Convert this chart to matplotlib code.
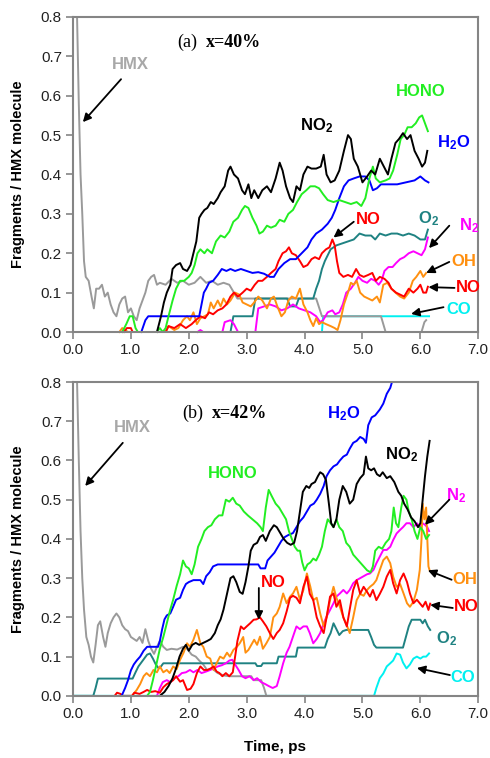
import matplotlib
matplotlib.use('Agg')
import matplotlib.pyplot as plt

plt.rcParams['font.family'] = ['Liberation Sans', 'DejaVu Sans']
plt.rcParams['mathtext.fontset'] = 'custom'
plt.rcParams['mathtext.bf'] = 'Liberation Sans:bold'
plt.rcParams['mathtext.rm'] = 'Liberation Sans:bold'

# ---------------- panel (a) x=40% ----------------
a_hmx_t = [0.00, 0.07, 0.10, 0.13, 0.16, 0.19, 0.22, 0.27, 0.32, 0.36, 0.40, 0.45, 0.50, 0.55, 0.60, 0.65,
           0.70, 0.75, 0.80, 0.85, 0.90, 0.95, 1.00, 1.05, 1.10, 1.15, 1.20, 1.25, 1.30, 1.35, 1.40, 1.45,
           1.50, 1.60, 1.70, 1.80, 1.90, 2.00, 2.10, 2.20, 2.30, 2.40, 2.50, 2.60, 2.70, 2.78, 2.84, 4.20,
           4.30, 5.32, 5.40, 6.02, 6.07, 6.10]
a_hmx_y = [1.00, 0.80, 0.58, 0.40, 0.30, 0.18, 0.14, 0.13, 0.09, 0.06, 0.11, 0.11, 0.12, 0.09, 0.10, 0.07,
           0.05, 0.04, 0.07, 0.085, 0.09, 0.05, 0.06, 0.04, 0.03, 0.06, 0.08, 0.10, 0.13, 0.14, 0.145, 0.12,
           0.125, 0.12, 0.135, 0.125, 0.13, 0.12, 0.125, 0.14, 0.125, 0.13, 0.12, 0.125, 0.12, 0.10, 0.085, 0.085,
           0.04, 0.04, 0.0, 0.0, 0.025, 0.03]

a_no2_t = [1.45, 1.52, 1.57, 1.62, 1.68, 1.72, 1.78, 1.85, 1.90, 1.97, 2.03, 2.08, 2.13, 2.18, 2.22, 2.27,
           2.32, 2.38, 2.43, 2.50, 2.55, 2.62, 2.68, 2.72, 2.78, 2.85, 2.92, 2.97, 3.03, 3.08, 3.13, 3.20,
           3.27, 3.35, 3.42, 3.50, 3.57, 3.62, 3.68, 3.75, 3.80, 3.86, 3.92, 3.98, 4.05, 4.12, 4.20, 4.28,
           4.33, 4.38, 4.45, 4.52, 4.60, 4.68, 4.75, 4.80, 4.85, 4.92, 5.00, 5.08, 5.15, 5.22, 5.30, 5.37,
           5.44, 5.50, 5.57, 5.63, 5.70, 5.77, 5.83, 5.90, 5.97, 6.03, 6.08, 6.12]
a_no2_y = [0.0, 0.04, 0.075, 0.10, 0.12, 0.16, 0.17, 0.175, 0.16, 0.155, 0.17, 0.20, 0.23, 0.29, 0.30, 0.31,
           0.315, 0.33, 0.325, 0.34, 0.355, 0.37, 0.41, 0.42, 0.40, 0.39, 0.36, 0.35, 0.375, 0.34, 0.36, 0.34,
           0.36, 0.37, 0.355, 0.39, 0.43, 0.41, 0.37, 0.34, 0.33, 0.37, 0.36, 0.40, 0.42, 0.415, 0.415, 0.42,
           0.45, 0.40, 0.38, 0.385, 0.41, 0.46, 0.50, 0.49, 0.44, 0.42, 0.38, 0.395, 0.41, 0.40, 0.44, 0.42,
           0.40, 0.44, 0.48, 0.49, 0.505, 0.49, 0.50, 0.46, 0.44, 0.42, 0.43, 0.46]

a_hono_t = [0.85, 0.92, 0.98, 1.03, 1.08, 1.12, 1.45, 1.50, 1.55, 1.60, 1.65, 1.72, 1.78, 1.85, 1.92, 2.00,
            2.05, 2.10, 2.15, 2.20, 2.27, 2.32, 2.40, 2.47, 2.55, 2.62, 2.70, 2.77, 2.85, 2.92, 2.97, 3.03,
            3.10, 3.17, 3.22, 3.28, 3.35, 3.42, 3.50, 3.57, 3.65, 3.72, 3.80, 3.87, 3.95, 4.03, 4.10, 4.18,
            4.25, 4.32, 4.40, 4.50, 4.60, 4.70, 4.80, 4.90, 4.98, 5.05, 5.12, 5.18, 5.23, 5.30, 5.40, 5.47,
            5.53, 5.60, 5.66, 5.72, 5.78, 5.85, 5.92, 5.98, 6.03, 6.08, 6.13]
a_hono_y = [0.0, 0.02, 0.04, 0.04, 0.01, 0.0, 0.0, 0.01, 0.0, 0.01, 0.04, 0.08, 0.11, 0.13, 0.13, 0.14,
            0.15, 0.17, 0.20, 0.21, 0.20, 0.21, 0.20, 0.23, 0.245, 0.24, 0.255, 0.28, 0.29, 0.31, 0.32, 0.315,
            0.29, 0.27, 0.25, 0.255, 0.27, 0.265, 0.27, 0.285, 0.28, 0.30, 0.31, 0.33, 0.35, 0.36, 0.37, 0.37,
            0.365, 0.35, 0.335, 0.33, 0.335, 0.33, 0.325, 0.33, 0.32, 0.34, 0.39, 0.42, 0.39, 0.38, 0.385, 0.39,
            0.41, 0.45, 0.49, 0.50, 0.52, 0.52, 0.53, 0.545, 0.55, 0.53, 0.51]

a_h2o_t = [1.18, 1.25, 1.30, 2.18, 2.22, 2.26, 2.30, 2.35, 2.42, 2.50, 2.57, 2.65, 2.72, 2.80, 2.90, 3.00,
           3.10, 3.20, 3.30, 3.40, 3.47, 3.55, 3.65, 3.75, 3.85, 3.95, 4.05, 4.12, 4.20, 4.30, 4.40, 4.47,
           4.53, 4.60, 4.68, 4.76, 4.85, 4.95, 5.05, 5.12, 5.18, 5.25, 5.32, 5.45, 5.60, 5.75, 5.90, 6.00,
           6.08, 6.14]
a_h2o_y = [0.0, 0.03, 0.04, 0.04, 0.07, 0.10, 0.11, 0.125, 0.13, 0.145, 0.16, 0.155, 0.16, 0.155, 0.16, 0.155,
           0.15, 0.152, 0.148, 0.14, 0.14, 0.16, 0.175, 0.185, 0.185, 0.20, 0.215, 0.235, 0.25, 0.26, 0.275, 0.29,
           0.31, 0.34, 0.37, 0.385, 0.39, 0.395, 0.395, 0.385, 0.36, 0.365, 0.375, 0.375, 0.375, 0.38, 0.385, 0.395,
           0.385, 0.38]

a_no_t = [0.88, 0.93, 1.00, 1.03, 1.60, 1.65, 1.75, 1.85, 1.95, 2.05, 2.12, 2.20, 2.28, 2.35, 2.42, 2.50,
          2.58, 2.65, 2.72, 2.78, 2.85, 2.93, 3.00, 3.07, 3.14, 3.20, 3.27, 3.35, 3.42, 3.50, 3.55, 3.62,
          3.68, 3.73, 3.78, 3.85, 3.92, 3.98, 4.05, 4.12, 4.18, 4.25, 4.30, 4.37, 4.43, 4.48, 4.52, 4.56,
          4.60, 4.67, 4.75, 4.82, 4.89, 4.95, 5.02, 5.10, 5.17, 5.23, 5.30, 5.38, 5.45, 5.50, 5.58, 5.65,
          5.72, 5.80, 5.88, 5.95, 6.00, 6.05, 6.10, 6.13]
a_no_y = [0.0, 0.01, 0.01, 0.0, 0.0, 0.015, 0.01, 0.02, 0.01, 0.02, 0.03, 0.04, 0.035, 0.05, 0.045, 0.055,
          0.06, 0.07, 0.09, 0.10, 0.09, 0.10, 0.11, 0.105, 0.12, 0.13, 0.13, 0.14, 0.15, 0.16, 0.18, 0.20,
          0.205, 0.215, 0.20, 0.195, 0.18, 0.165, 0.17, 0.185, 0.19, 0.185, 0.20, 0.21, 0.215, 0.235, 0.22, 0.18,
          0.15, 0.14, 0.145, 0.14, 0.16, 0.145, 0.14, 0.145, 0.15, 0.13, 0.14, 0.135, 0.125, 0.11, 0.10, 0.095,
          0.09, 0.11, 0.10, 0.11, 0.12, 0.10, 0.10, 0.115]

a_o2_t = [0.0, 2.72, 2.77, 3.10, 3.15, 3.70, 3.75, 3.85, 3.90, 4.15, 4.20, 4.25, 4.30, 4.35, 4.40, 4.45,
          4.55, 4.65, 4.75, 4.85, 4.95, 5.05, 5.15, 5.22, 5.30, 5.40, 5.50, 5.60, 5.70, 5.80, 5.90, 6.00,
          6.08, 6.13]
a_o2_y = [0.0, 0.0, 0.04, 0.04, 0.085, 0.085, 0.065, 0.065, 0.085, 0.085, 0.11, 0.13, 0.16, 0.18, 0.195, 0.21,
          0.22, 0.225, 0.23, 0.235, 0.25, 0.245, 0.245, 0.235, 0.25, 0.245, 0.25, 0.25, 0.245, 0.25, 0.245, 0.235,
          0.235, 0.26]

a_n2_t = [2.15, 2.20, 2.25, 2.58, 2.62, 2.72, 2.78, 2.85, 3.15, 3.20, 3.30, 3.40, 3.50, 3.60, 3.70, 3.80,
          3.90, 4.00, 4.10, 4.20, 4.27, 4.32, 4.40, 4.48, 4.53, 4.60, 4.66, 4.72, 4.80, 4.87, 4.93, 5.00,
          5.08, 5.15, 5.22, 5.28, 5.33, 5.38, 5.45, 5.52, 5.58, 5.65, 5.72, 5.80, 5.88, 5.95, 6.02, 6.08,
          6.13]
a_n2_y = [0.0, 0.005, 0.0, 0.0, 0.025, 0.03, 0.02, 0.0, 0.0, 0.06, 0.065, 0.07, 0.065, 0.055, 0.06, 0.07,
          0.06, 0.055, 0.05, 0.04, 0.025, 0.03, 0.05, 0.055, 0.045, 0.05, 0.07, 0.10, 0.11, 0.125, 0.14, 0.13,
          0.125, 0.135, 0.13, 0.12, 0.13, 0.155, 0.165, 0.165, 0.175, 0.185, 0.19, 0.20, 0.205, 0.20, 0.195, 0.21,
          0.24]

a_oh_t = [0.80, 0.85, 0.90, 0.95, 1.60, 1.65, 1.75, 1.82, 1.90, 1.97, 2.02, 2.08, 2.14, 2.20, 2.27, 2.33,
          2.38, 2.43, 2.50, 2.55, 2.60, 2.66, 2.72, 2.80, 2.87, 2.93, 3.00, 3.07, 3.13, 3.20, 3.27, 3.35,
          3.42, 3.47, 3.53, 3.60, 3.66, 3.72, 3.78, 3.85, 3.92, 3.98, 4.05, 4.10, 4.15, 4.20, 4.25, 4.30,
          4.37, 4.45, 4.52, 4.57, 4.62, 4.68, 4.75, 4.80, 4.85, 4.90, 4.96, 5.03, 5.10, 5.17, 5.25, 5.30,
          5.36, 5.43, 5.50, 5.57, 5.65, 5.72, 5.80, 5.87, 5.93, 6.00, 6.05, 6.10]
a_oh_y = [0.0, 0.01, 0.005, 0.0, 0.0, 0.015, 0.005, 0.01, 0.03, 0.04, 0.03, 0.05, 0.02, 0.035, 0.04, 0.045,
          0.075, 0.06, 0.08, 0.065, 0.085, 0.07, 0.08, 0.10, 0.095, 0.075, 0.07, 0.065, 0.075, 0.09, 0.08, 0.06,
          0.085, 0.09, 0.065, 0.04, 0.05, 0.08, 0.09, 0.085, 0.11, 0.07, 0.05, 0.03, 0.015, 0.035, 0.02, 0.025,
          0.02, 0.015, 0.01, 0.005, 0.03, 0.07, 0.10, 0.125, 0.12, 0.13, 0.10, 0.09, 0.085, 0.08, 0.09, 0.075,
          0.12, 0.125, 0.11, 0.10, 0.09, 0.085, 0.10, 0.13, 0.14, 0.155, 0.14, 0.15]

a_co_t = [0.0, 4.30, 4.32, 6.15]
a_co_y = [0.0, 0.0, 0.04, 0.04]

# ---------------- panel (b) x=42% ----------------
b_hmx_t = [0.00, 0.07, 0.10, 0.13, 0.16, 0.19, 0.23, 0.27, 0.31, 0.35, 0.39, 0.43, 0.47, 0.52, 0.56, 0.60,
           0.65, 0.70, 0.75, 0.80, 0.85, 0.90, 0.95, 1.00, 1.05, 1.10, 1.15, 1.20, 1.25, 1.30, 1.35, 1.40,
           1.45, 1.50, 1.56, 1.62, 1.70, 1.80, 1.90, 1.97, 2.05, 2.12, 2.18, 2.25, 2.32, 2.40, 2.50, 2.60,
           2.70, 2.90, 3.08, 3.12, 3.25, 3.30, 3.34, 6.10]
b_hmx_y = [1.00, 0.80, 0.60, 0.42, 0.30, 0.22, 0.15, 0.13, 0.10, 0.085, 0.13, 0.18, 0.19, 0.15, 0.125, 0.16,
           0.185, 0.20, 0.21, 0.20, 0.18, 0.17, 0.165, 0.15, 0.145, 0.14, 0.15, 0.135, 0.17, 0.14, 0.12, 0.107,
           0.125, 0.14, 0.125, 0.117, 0.12, 0.118, 0.125, 0.12, 0.105, 0.10, 0.09, 0.08, 0.065, 0.07, 0.058, 0.052,
           0.05, 0.05, 0.05, 0.04, 0.04, 0.02, 0.0, 0.0]

b_no2_t = [1.50, 1.58, 1.65, 1.72, 1.78, 1.84, 1.90, 1.95, 2.00, 2.06, 2.12, 2.18, 2.25, 2.32, 2.38, 2.45,
           2.50, 2.55, 2.60, 2.66, 2.72, 2.77, 2.82, 2.88, 2.93, 2.98, 3.03, 3.07, 3.12, 3.18, 3.23, 3.28,
           3.33, 3.40, 3.47, 3.52, 3.58, 3.64, 3.70, 3.76, 3.82, 3.87, 3.92, 3.97, 4.03, 4.08, 4.12, 4.18,
           4.23, 4.27, 4.32, 4.37, 4.42, 4.46, 4.50, 4.55, 4.60, 4.66, 4.72, 4.78, 4.84, 4.90, 4.96, 5.02,
           5.06, 5.10, 5.15, 5.20, 5.25, 5.30, 5.35, 5.42, 5.48, 5.55, 5.62, 5.67, 5.72, 5.78, 5.84, 5.90,
           5.96, 6.00, 6.04, 6.08, 6.12, 6.16]
b_no2_y = [0.0, 0.01, 0.025, 0.045, 0.07, 0.10, 0.12, 0.13, 0.115, 0.13, 0.135, 0.13, 0.135, 0.14, 0.145, 0.16,
           0.18, 0.195, 0.22, 0.26, 0.30, 0.305, 0.29, 0.265, 0.26, 0.29, 0.33, 0.37, 0.385, 0.39, 0.405, 0.41,
           0.395, 0.42, 0.435, 0.43, 0.415, 0.40, 0.39, 0.385, 0.39, 0.42, 0.47, 0.52, 0.535, 0.53, 0.54, 0.545,
           0.56, 0.57, 0.565, 0.55, 0.49, 0.44, 0.43, 0.45, 0.50, 0.535, 0.52, 0.49, 0.50, 0.54, 0.555, 0.565,
           0.61, 0.58, 0.575, 0.58, 0.565, 0.56, 0.57, 0.555, 0.56, 0.545, 0.52, 0.51, 0.49, 0.475, 0.455, 0.445,
           0.43, 0.44, 0.50, 0.56, 0.61, 0.65]

b_hono_t = [1.28, 1.33, 1.38, 1.44, 1.50, 1.56, 1.62, 1.68, 1.73, 1.79, 1.85, 1.90, 1.95, 2.00, 2.05, 2.10,
            2.16, 2.22, 2.27, 2.33, 2.39, 2.45, 2.52, 2.58, 2.64, 2.70, 2.76, 2.82, 2.88, 2.95, 3.02, 3.10,
            3.18, 3.24, 3.28, 3.33, 3.38, 3.43, 3.50, 3.56, 3.62, 3.68, 3.73, 3.78, 3.83, 3.88,
            3.92, 3.96, 4.00, 4.05, 4.10, 4.15, 4.20, 4.25, 4.30, 4.35, 4.40, 4.45, 4.50, 4.55, 4.60, 4.66,
            4.72, 4.78, 4.84, 4.90, 4.96, 5.02, 5.08, 5.14, 5.18, 5.22, 5.28, 5.34, 5.40, 5.46, 5.50, 5.54,
            5.58, 5.62, 5.67, 5.71, 5.76, 5.80, 5.85, 5.90, 5.95, 6.00, 6.05, 6.10, 6.15]
b_hono_y = [0.0, 0.01, 0.04, 0.08, 0.12, 0.15, 0.185, 0.22, 0.245, 0.28, 0.31, 0.345, 0.33, 0.325, 0.31, 0.335,
            0.38, 0.40, 0.42, 0.43, 0.435, 0.45, 0.46, 0.46, 0.50, 0.495, 0.505, 0.49, 0.485, 0.47, 0.46, 0.45,
            0.44, 0.43, 0.42, 0.48, 0.525, 0.51, 0.49, 0.48, 0.465, 0.45, 0.42, 0.40, 0.38, 0.37,
            0.37, 0.34, 0.32, 0.335, 0.34, 0.35, 0.345, 0.36, 0.38, 0.42, 0.45, 0.44, 0.43, 0.45, 0.43, 0.42,
            0.39, 0.38, 0.36, 0.35, 0.34, 0.33, 0.32, 0.315, 0.33, 0.37, 0.38, 0.375, 0.39, 0.40, 0.42, 0.48,
            0.44, 0.43, 0.48, 0.51, 0.50, 0.47, 0.45, 0.42, 0.40, 0.43, 0.42, 0.40, 0.41]

b_h2o_t = [0.84, 0.90, 0.95, 1.00, 1.05, 1.10, 1.16, 1.22, 1.28, 1.47, 1.50, 1.54, 1.58, 1.62, 1.68, 1.73,
           1.78, 1.85, 1.90, 1.95, 2.00, 2.08, 2.20, 2.25, 2.30, 2.36, 2.42, 2.50, 3.20, 3.24, 3.32, 3.36,
           3.42, 3.48, 3.54, 3.60, 3.66, 3.72, 3.80, 3.86, 3.92, 3.98, 4.04, 4.10, 4.16, 4.21, 4.27, 4.33,
           4.38, 4.44, 4.50, 4.56, 4.61, 4.67, 4.73, 4.78, 4.84, 4.90, 4.96, 5.02, 5.06, 5.10, 5.16, 5.22,
           5.30, 5.36, 5.42, 5.48, 5.55]
b_h2o_y = [0.0, 0.02, 0.04, 0.065, 0.08, 0.09, 0.10, 0.115, 0.125, 0.125, 0.14, 0.17, 0.195, 0.205, 0.21, 0.227,
           0.245, 0.25, 0.27, 0.285, 0.29, 0.295, 0.295, 0.285, 0.305, 0.315, 0.33, 0.335, 0.335, 0.325, 0.325, 0.345,
           0.355, 0.365, 0.38, 0.395, 0.405, 0.41, 0.415, 0.43, 0.445, 0.455, 0.47, 0.485, 0.49, 0.50, 0.515, 0.535,
           0.56, 0.575, 0.585, 0.59, 0.60, 0.61, 0.615, 0.63, 0.645, 0.65, 0.66, 0.655, 0.645, 0.69, 0.71, 0.715,
           0.73, 0.745, 0.77, 0.785, 0.82]

b_no_t = [0.72, 0.76, 0.82, 0.86, 1.02, 1.06, 1.15, 1.22, 1.28, 1.35, 1.42, 1.50, 1.56, 1.62, 1.68, 1.73,
          1.78, 1.85, 1.90, 1.97, 2.03, 2.08, 2.14, 2.20, 2.26, 2.32, 2.38, 2.43, 2.48, 2.53, 2.58, 2.64,
          2.70, 2.76, 2.80, 2.84, 2.90, 2.95, 3.00, 3.06, 3.12, 3.17, 3.23, 3.28, 3.34, 3.40, 3.46, 3.52,
          3.57, 3.63, 3.69, 3.75, 3.80, 3.86, 3.92, 3.98, 4.04, 4.09, 4.15, 4.21, 4.27, 4.33, 4.38, 4.44,
          4.50, 4.55, 4.61, 4.67, 4.73, 4.78, 4.84, 4.90, 4.96, 5.02, 5.08, 5.13, 5.18, 5.24, 5.30, 5.36,
          5.42, 5.48, 5.53, 5.59, 5.65, 5.71, 5.77, 5.82, 5.88, 5.94, 5.99, 6.04, 6.09, 6.14, 6.17]
b_no_y = [0.0, 0.008, 0.005, 0.0, 0.0, 0.008, 0.005, 0.01, 0.015, 0.01, 0.012, 0.008, 0.022, 0.03, 0.035, 0.04,
          0.05, 0.036, 0.04, 0.015, 0.018, 0.03, 0.058, 0.075, 0.066, 0.066, 0.07, 0.075, 0.062, 0.058, 0.05, 0.058,
          0.05, 0.06, 0.10, 0.14, 0.177, 0.17, 0.177, 0.185, 0.194, 0.195, 0.20, 0.19, 0.177, 0.16, 0.145, 0.16,
          0.168, 0.185, 0.215, 0.25, 0.255, 0.25, 0.236, 0.278, 0.304, 0.26, 0.244, 0.20, 0.177, 0.16, 0.20, 0.253,
          0.261, 0.227, 0.244, 0.20, 0.177, 0.22, 0.27, 0.295, 0.26, 0.278, 0.265, 0.253, 0.27, 0.244, 0.26, 0.278,
          0.304, 0.321, 0.287, 0.261, 0.295, 0.312, 0.29, 0.261, 0.236, 0.245, 0.236, 0.227, 0.24, 0.219, 0.235]

b_oh_t = [1.02, 1.10, 1.16, 1.22, 1.27, 1.33, 1.39, 1.45, 1.50, 1.56, 1.62, 1.67, 1.73, 1.79, 1.85, 1.91,
          1.97, 2.02, 2.08, 2.14, 2.20, 2.25, 2.31, 2.37, 2.43, 2.48, 2.54, 2.60, 2.66, 2.71, 2.77, 2.83,
          2.88, 2.94, 2.98, 3.03, 3.08, 3.13, 3.18, 3.23, 3.28, 3.34, 3.40, 3.46, 3.52, 3.57, 3.63, 3.69,
          3.75, 3.80, 3.86, 3.92, 3.98, 4.04, 4.10, 4.15, 4.21, 4.27, 4.33, 4.38, 4.44, 4.50, 4.55, 4.61,
          4.67, 4.73, 4.78, 4.84, 4.90, 4.96, 5.02, 5.08, 5.13, 5.19, 5.24, 5.30, 5.36, 5.42, 5.48, 5.53,
          5.59, 5.65, 5.71, 5.77, 5.82, 5.88, 5.94, 5.99, 6.02, 6.04, 6.07, 6.10, 6.12, 6.14, 6.16]
b_oh_y = [0.0, 0.015, 0.03, 0.05, 0.058, 0.05, 0.066, 0.06, 0.075, 0.06, 0.066, 0.058, 0.075, 0.068, 0.092, 0.11,
          0.134, 0.125, 0.143, 0.168, 0.134, 0.125, 0.10, 0.095, 0.066, 0.083, 0.10, 0.095, 0.11, 0.10, 0.117, 0.125,
          0.134, 0.15, 0.11, 0.117, 0.13, 0.143, 0.13, 0.151, 0.12, 0.134, 0.15, 0.20, 0.21, 0.227, 0.261, 0.236,
          0.253, 0.261, 0.278, 0.245, 0.27, 0.312, 0.278, 0.244, 0.25, 0.21, 0.177, 0.20, 0.244, 0.278, 0.25, 0.227,
          0.20, 0.18, 0.16, 0.20, 0.244, 0.26, 0.255, 0.27, 0.278, 0.285, 0.295, 0.321, 0.346, 0.355, 0.338, 0.304,
          0.278, 0.285, 0.261, 0.236, 0.227, 0.24, 0.27, 0.321, 0.40, 0.49, 0.45, 0.48, 0.40, 0.33, 0.32]

b_n2_t = [1.45, 1.50, 1.55, 1.62, 1.68, 1.75, 1.82, 1.88, 1.95, 2.02, 2.08, 2.15, 2.22, 2.30, 2.37, 2.43,
          2.50, 2.57, 2.64, 2.70, 2.75, 2.80, 2.86, 2.92, 2.98, 3.05, 3.12, 3.18, 3.25, 3.32, 3.38, 3.45,
          3.52, 3.57, 3.63, 3.69, 3.74, 3.80, 3.86, 3.92, 3.98, 4.04, 4.09, 4.15, 4.21, 4.27, 4.33, 4.38,
          4.44, 4.50, 4.55, 4.61, 4.67, 4.73, 4.78, 4.84, 4.90, 4.96, 5.02, 5.08, 5.13, 5.19, 5.24, 5.30,
          5.36, 5.42, 5.48, 5.53, 5.59, 5.65, 5.70, 5.76, 5.82, 5.88, 5.94, 5.99, 6.04, 6.08, 6.12, 6.15]
b_n2_y = [0.0, 0.02, 0.035, 0.04, 0.035, 0.045, 0.05, 0.058, 0.06, 0.066, 0.06, 0.066, 0.058, 0.062, 0.066, 0.07,
          0.075, 0.078, 0.083, 0.09, 0.092, 0.08, 0.066, 0.05, 0.045, 0.05, 0.04, 0.045, 0.035, 0.03, 0.025, 0.02,
          0.025, 0.05, 0.083, 0.11, 0.125, 0.151, 0.177, 0.17, 0.177, 0.177, 0.16, 0.134, 0.145, 0.16, 0.185, 0.202,
          0.219, 0.236, 0.253, 0.261, 0.27, 0.261, 0.27, 0.287, 0.295, 0.30, 0.305, 0.31, 0.312, 0.321, 0.338, 0.355,
          0.372, 0.372, 0.38, 0.397, 0.414, 0.423, 0.43, 0.44, 0.44, 0.43, 0.44, 0.43, 0.44, 0.436, 0.43, 0.42]

b_o2_t = [0.0, 0.35, 0.39, 0.43, 1.03, 1.08, 1.13, 1.18, 1.23, 1.28, 1.33, 1.38, 1.43, 1.48, 1.52, 1.56,
          3.15, 3.18, 3.25, 3.28, 3.52, 3.55, 3.85, 3.88, 4.35, 4.40, 4.45, 4.50, 4.55, 4.60, 4.66, 4.72,
          5.10, 5.15, 5.20, 5.24, 5.70, 5.75, 5.80, 5.85, 6.00, 6.04, 6.08, 6.13, 6.17]
b_o2_y = [0.0, 0.0, 0.02, 0.044, 0.044, 0.06, 0.075, 0.085, 0.095, 0.105, 0.108, 0.095, 0.08, 0.07, 0.075, 0.083,
          0.083, 0.076, 0.076, 0.083, 0.083, 0.10, 0.10, 0.123, 0.123, 0.145, 0.16, 0.185, 0.17, 0.155, 0.165, 0.168,
          0.168, 0.15, 0.13, 0.123, 0.123, 0.15, 0.177, 0.194, 0.194, 0.185, 0.194, 0.177, 0.168]

b_co_t = [0.0, 5.20, 5.24, 5.30, 5.36, 5.42, 5.48, 5.53, 5.59, 5.65, 5.70, 5.76, 5.82, 5.88, 5.94, 6.00,
          6.05, 6.10, 6.15]
b_co_y = [0.0, 0.0, 0.02, 0.045, 0.057, 0.075, 0.083, 0.09, 0.108, 0.105, 0.085, 0.07, 0.08, 0.095, 0.10, 0.095,
          0.10, 0.10, 0.108]

GRAY = '#9a9a9a'
C_HMX_LBL = '#a8a8a8'
GREEN = '#22ee22'
BLUE = '#0000ff'
RED = '#ff0000'
TEAL = '#1f8282'
MAGENTA = '#ff00ff'
ORANGE = '#ff9010'
CYAN = '#00f0f0'

fig = plt.figure(figsize=(4.9, 7.58), dpi=100)
ax_a = fig.add_axes([0.149, 0.562, 0.827, 0.4156])
ax_b = fig.add_axes([0.149, 0.082, 0.827, 0.414])


def draw(ax, series):
    for t, y, c in series:
        clip = max(y) > 0.8
        ax.plot(t, y, color=c, lw=1.4, clip_on=clip)


draw(ax_a, [(a_co_t, a_co_y, CYAN), (a_hmx_t, a_hmx_y, GRAY), (a_o2_t, a_o2_y, TEAL),
            (a_n2_t, a_n2_y, MAGENTA), (a_oh_t, a_oh_y, ORANGE), (a_no_t, a_no_y, RED),
            (a_h2o_t, a_h2o_y, BLUE), (a_hono_t, a_hono_y, GREEN), (a_no2_t, a_no2_y, 'black')])
draw(ax_b, [(b_co_t, b_co_y, CYAN), (b_hmx_t, b_hmx_y, GRAY), (b_o2_t, b_o2_y, TEAL),
            (b_n2_t, b_n2_y, MAGENTA), (b_oh_t, b_oh_y, ORANGE), (b_no_t, b_no_y, RED),
            (b_h2o_t, b_h2o_y, BLUE), (b_hono_t, b_hono_y, GREEN), (b_no2_t, b_no2_y, 'black')])

for ax in (ax_a, ax_b):
    ax.set_xlim(0, 7)
    ax.set_ylim(0, 0.8)
    ax.set_xticks([0, 1, 2, 3, 4, 5, 6, 7])
    ax.set_xticklabels(['%.1f' % v for v in range(8)])
    ax.set_yticks([i / 10 for i in range(9)])
    ax.set_yticklabels(['%.1f' % (i / 10) for i in range(9)])
    for s in ax.spines.values():
        s.set_color('#858585')
        s.set_linewidth(1.5)
    ax.tick_params(direction='out', length=5, width=1.2, color='#858585',
                   labelsize=11, labelcolor='#222222', pad=3)
    ax.set_ylabel('Fragments / HMX molecule', fontsize=10.5, fontweight='bold', labelpad=11)

fig.text(0.562, 0.014, 'Time, ps', fontsize=11, fontweight='bold', ha='center', va='center')

arrow = dict(arrowstyle='-|>', color='black', lw=1.3, mutation_scale=12, shrinkA=0, shrinkB=0)
lbl = dict(fontsize=12, fontweight='bold', ha='center', va='center')

# panel (a) labels
ax_a.text(1.80, 0.736, '(a)', family='Liberation Serif', fontsize=13, va='center')
ax_a.text(2.30, 0.736, 'x=40%', family='Liberation Serif', fontsize=13, fontweight='bold', va='center')
ax_a.text(0.99, 0.68, 'HMX', color=C_HMX_LBL, **lbl)
ax_a.annotate('', xy=(0.17, 0.533), xytext=(0.83, 0.642), arrowprops=arrow)
ax_a.text(4.21, 0.525, r'$\mathbf{NO_2}$', color='black', **lbl)
ax_a.text(6.00, 0.61, 'HONO', color=GREEN, **lbl)
ax_a.text(6.57, 0.48, r'$\mathbf{H_2O}$', color=BLUE, **lbl)
ax_a.text(5.10, 0.285, 'NO', color=RED, **lbl)
ax_a.annotate('', xy=(4.50, 0.24), xytext=(4.85, 0.28), arrowprops=arrow)
ax_a.text(6.15, 0.287, r'$\mathbf{O_2}$', color=TEAL, **lbl)
ax_a.text(6.85, 0.27, r'$\mathbf{N_2}$', color=MAGENTA, **lbl)
ax_a.annotate('', xy=(6.15, 0.213), xytext=(6.50, 0.27), arrowprops=arrow)
ax_a.text(6.75, 0.18, 'OH', color=ORANGE, **lbl)
ax_a.annotate('', xy=(6.10, 0.15), xytext=(6.50, 0.178), arrowprops=arrow)
ax_a.text(6.83, 0.112, 'NO', color=RED, **lbl)
ax_a.annotate('', xy=(6.14, 0.114), xytext=(6.59, 0.112), arrowprops=arrow)
ax_a.text(6.67, 0.056, 'CO', color=CYAN, **lbl)
ax_a.annotate('', xy=(5.84, 0.046), xytext=(6.40, 0.063), arrowprops=arrow)

# panel (b) labels
ax_b.text(1.88, 0.72, '(b)', family='Liberation Serif', fontsize=13, va='center')
ax_b.text(2.40, 0.72, 'x=42%', family='Liberation Serif', fontsize=13, fontweight='bold', va='center')
ax_b.text(1.02, 0.685, 'HMX', color=C_HMX_LBL, **lbl)
ax_b.annotate('', xy=(0.21, 0.535), xytext=(0.86, 0.645), arrowprops=arrow)
ax_b.text(4.68, 0.72, r'$\mathbf{H_2O}$', color=BLUE, **lbl)
ax_b.text(5.67, 0.614, r'$\mathbf{NO_2}$', color='black', **lbl)
ax_b.text(2.76, 0.568, 'HONO', color=GREEN, **lbl)
ax_b.text(6.61, 0.51, r'$\mathbf{N_2}$', color=MAGENTA, **lbl)
ax_b.annotate('', xy=(6.08, 0.436), xytext=(6.50, 0.50), arrowprops=arrow)
ax_b.text(6.77, 0.296, 'OH', color=ORANGE, **lbl)
ax_b.annotate('', xy=(6.13, 0.32), xytext=(6.54, 0.296), arrowprops=arrow)
ax_b.text(6.79, 0.227, 'NO', color=RED, **lbl)
ax_b.annotate('', xy=(6.17, 0.232), xytext=(6.56, 0.224), arrowprops=arrow)
ax_b.text(6.46, 0.145, r'$\mathbf{O_2}$', color=TEAL, **lbl)
ax_b.text(6.74, 0.048, 'CO', color=CYAN, **lbl)
ax_b.annotate('', xy=(5.94, 0.071), xytext=(6.51, 0.053), arrowprops=arrow)
ax_b.text(3.46, 0.288, 'NO', color=RED, **lbl)
ax_b.annotate('', xy=(3.21, 0.194), xytext=(3.21, 0.275), arrowprops=arrow)

fig.savefig('out.png', dpi=100)
